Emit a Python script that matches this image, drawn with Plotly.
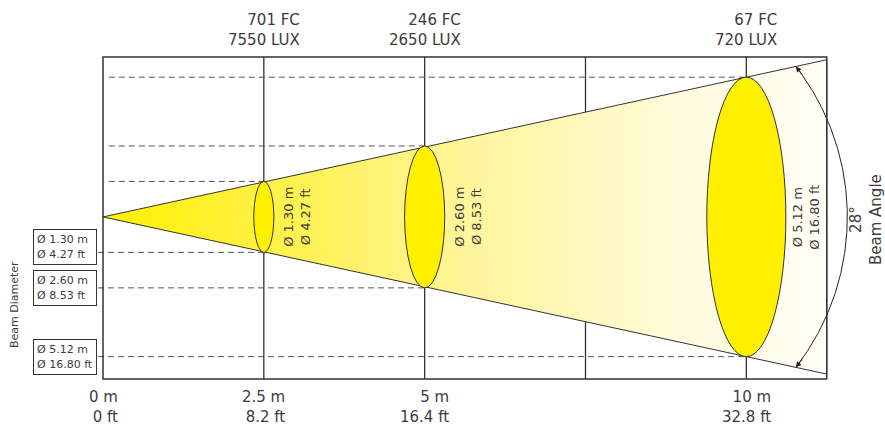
import numpy as np
import plotly.graph_objects as go

# ---------------- data ----------------
distances_m = [2.5, 5, 10]
diam_m = [1.30, 2.60, 5.12]
diam_ft = [4.27, 8.53, 16.80]
illum_fc = [701, 246, 67]
illum_lux = [7550, 2650, 720]
beam_angle_deg = 28
tick_m = [0, 2.5, 5, 10]
tick_m_labels = ["0 m", "2.5 m", "5 m", "10 m"]
tick_ft_labels = ["0 ft", "8.2 ft", "16.4 ft", "32.8 ft"]
grid_m = [2.5, 5, 7.5, 10]
frame_end_m = 11.25

# ---------------- style ----------------
FONT = "DejaVu Sans"
TXT = "#3c3c3c"
LINE = "#333333"
YELLOW = "#FFF000"
X_VIEW = [0, 12.0]
Y_VIEW = [-2.97, 2.93]
W, H = 885, 428
ML, MR, MT, MB = 103, 10, 57, 49
PW = W - ML - MR
PH = H - MT - MB
PX_X = PW / (X_VIEW[1] - X_VIEW[0])
PX_Y = PH / (Y_VIEW[1] - Y_VIEW[0])
ELL_W = 0.24  # ellipse width as fraction of diameter (drawing style)

slope = diam_m[-1] / 2 / distances_m[-1]

fig = go.Figure()

# beam cone with gradient
fig.add_trace(go.Scatter(
    x=[0, frame_end_m, frame_end_m, 0],
    y=[0, slope * frame_end_m, -slope * frame_end_m, 0],
    mode="lines", fill="toself",
    line=dict(color=LINE, width=1),
    fillgradient=dict(type="horizontal", colorscale=[
        [0, "#FFF000"], [0.2, "#FFF13C"], [0.5, "#FFF59A"],
        [0.8, "#FFFBDC"], [1, "#FFFEF6"]]),
    hoverinfo="skip", showlegend=False))

# beam-angle arc (circle in pixel space)
arc_end_x = 10.77
arc_tip_x = 11.57
k = PX_X / PX_Y
y_e = slope * arc_end_x
u = arc_tip_x - arc_end_x
rx = (u ** 2 + (y_e / k) ** 2) / (2 * u)
cx = arc_tip_x - rx
t_e = np.arctan2(y_e / (k * rx), (arc_end_x - cx) / rx)
t = np.linspace(-t_e, t_e, 200)
fig.add_trace(go.Scatter(
    x=cx + rx * np.cos(t), y=k * rx * np.sin(t),
    mode="lines", line=dict(color="#222222", width=1),
    hoverinfo="skip", showlegend=False))

shapes = []
# gridlines (behind cone)
for g in grid_m:
    shapes.append(dict(type="line", xref="x", yref="paper", x0=g, x1=g, y0=0, y1=1,
                       line=dict(color=LINE, width=1.3), layer="below"))
# dashed diameter guides
for d, D in zip(distances_m, diam_m):
    shapes.append(dict(type="line", xref="x", yref="y", x0=0.09, x1=d, y0=D / 2, y1=D / 2,
                       line=dict(color="#555555", width=1, dash="6px,4px"), layer="below"))
    shapes.append(dict(type="line", xref="x domain", yref="y", x0=-5 / PW, x1=d / X_VIEW[1],
                       y0=-D / 2, y1=-D / 2,
                       line=dict(color="#555555", width=1, dash="6px,4px"), layer="below"))
# ellipses
for d, D in zip(distances_m, diam_m):
    w = ELL_W * D
    shapes.append(dict(type="circle", xref="x", yref="y", x0=d - w / 2, x1=d + w / 2,
                       y0=-D / 2, y1=D / 2, fillcolor=YELLOW,
                       line=dict(color=LINE, width=1), layer="above"))
# frame
shapes.append(dict(type="rect", xref="x domain", yref="paper", x0=0, x1=frame_end_m / X_VIEW[1],
                   y0=0, y1=1, line=dict(color=LINE, width=1.5), layer="above"))

ann = []
# top illumination labels
for d, f, l in zip(distances_m, illum_fc, illum_lux):
    ann.append(dict(xref="x", yref="paper", x=d, y=1, xanchor="center", yanchor="bottom",
                    yshift=6, align="right", showarrow=False,
                    text=f"{f} FC<br>{l} LUX", font=dict(family=FONT, size=15, color=TXT)))
# bottom distance labels
for d, a, b in zip(tick_m, tick_m_labels, tick_ft_labels):
    ann.append(dict(xref="x", yref="paper", x=d, y=0, xanchor="center", yanchor="top",
                    yshift=-7, align="right", showarrow=False,
                    text=f"{a}<br>{b}", font=dict(family=FONT, size=15, color=TXT)))
# labels inside cone
for d, D, F in zip(distances_m, diam_m, diam_ft):
    ann.append(dict(xref="x", yref="y", x=d + ELL_W * D / 2, y=0, xanchor="left",
                    yanchor="middle", xshift=5 if D < 5 else 2, textangle=-90, showarrow=False,
                    text=f"Ø {D:.2f} m<br>Ø {F:.2f} ft",
                    font=dict(family=FONT, size=13, color=TXT)))
# boxed labels on left
for i, (D, F) in enumerate(zip(diam_m, diam_ft)):
    ann.append(dict(xref="paper", yref="y", x=0, y=-D / 2, xanchor="right", yanchor="middle",
                    xshift=-6, yshift=5 if i == 0 else 0, align="left", showarrow=False,
                    text=f"Ø {D:.2f} m<br>Ø {F:.2f} ft",
                    bordercolor=LINE, borderwidth=1, borderpad=3, width=56, height=28,
                    bgcolor="white",
                    font=dict(family=FONT, size=11, color=TXT)))
ann.append(dict(xref="paper", yref="paper", x=(14 - ML) / PW, y=(H - MB - 305) / PH,
                xanchor="center", yanchor="middle", textangle=-90, showarrow=False,
                text="Beam Diameter", font=dict(family=FONT, size=11, color=TXT)))
# beam angle text
ann.append(dict(xref="paper", yref="paper", x=(866 - ML) / PW, y=(H - MB - 220) / PH,
                xanchor="center", yanchor="middle", textangle=-90, showarrow=False,
                text=f"{beam_angle_deg}°<br>Beam Angle",
                font=dict(family=FONT, size=15, color=TXT)))
# arrowheads on the arc
L = 12
for sgn in (1, -1):
    ann.append(dict(xref="x", yref="y", x=arc_end_x, y=sgn * y_e, showarrow=True,
                    axref="pixel", ayref="pixel",
                    ax=float(np.sin(t_e) * L), ay=float(sgn * np.cos(t_e) * L),
                    arrowhead=2, arrowsize=1.1, arrowwidth=1, arrowcolor="#222222",
                    standoff=0, text=""))

fig.update_layout(
    width=W, height=H, margin=dict(l=ML, r=MR, t=MT, b=MB),
    paper_bgcolor="white", plot_bgcolor="white",
    xaxis=dict(range=X_VIEW, visible=False, fixedrange=True),
    yaxis=dict(range=Y_VIEW, visible=False, fixedrange=True),
    shapes=shapes, annotations=ann, showlegend=False,
)
fig.write_html("out.html", config={"displayModeBar": False},
               post_script="document.body.style.margin='0';document.body.style.overflow='hidden';")
